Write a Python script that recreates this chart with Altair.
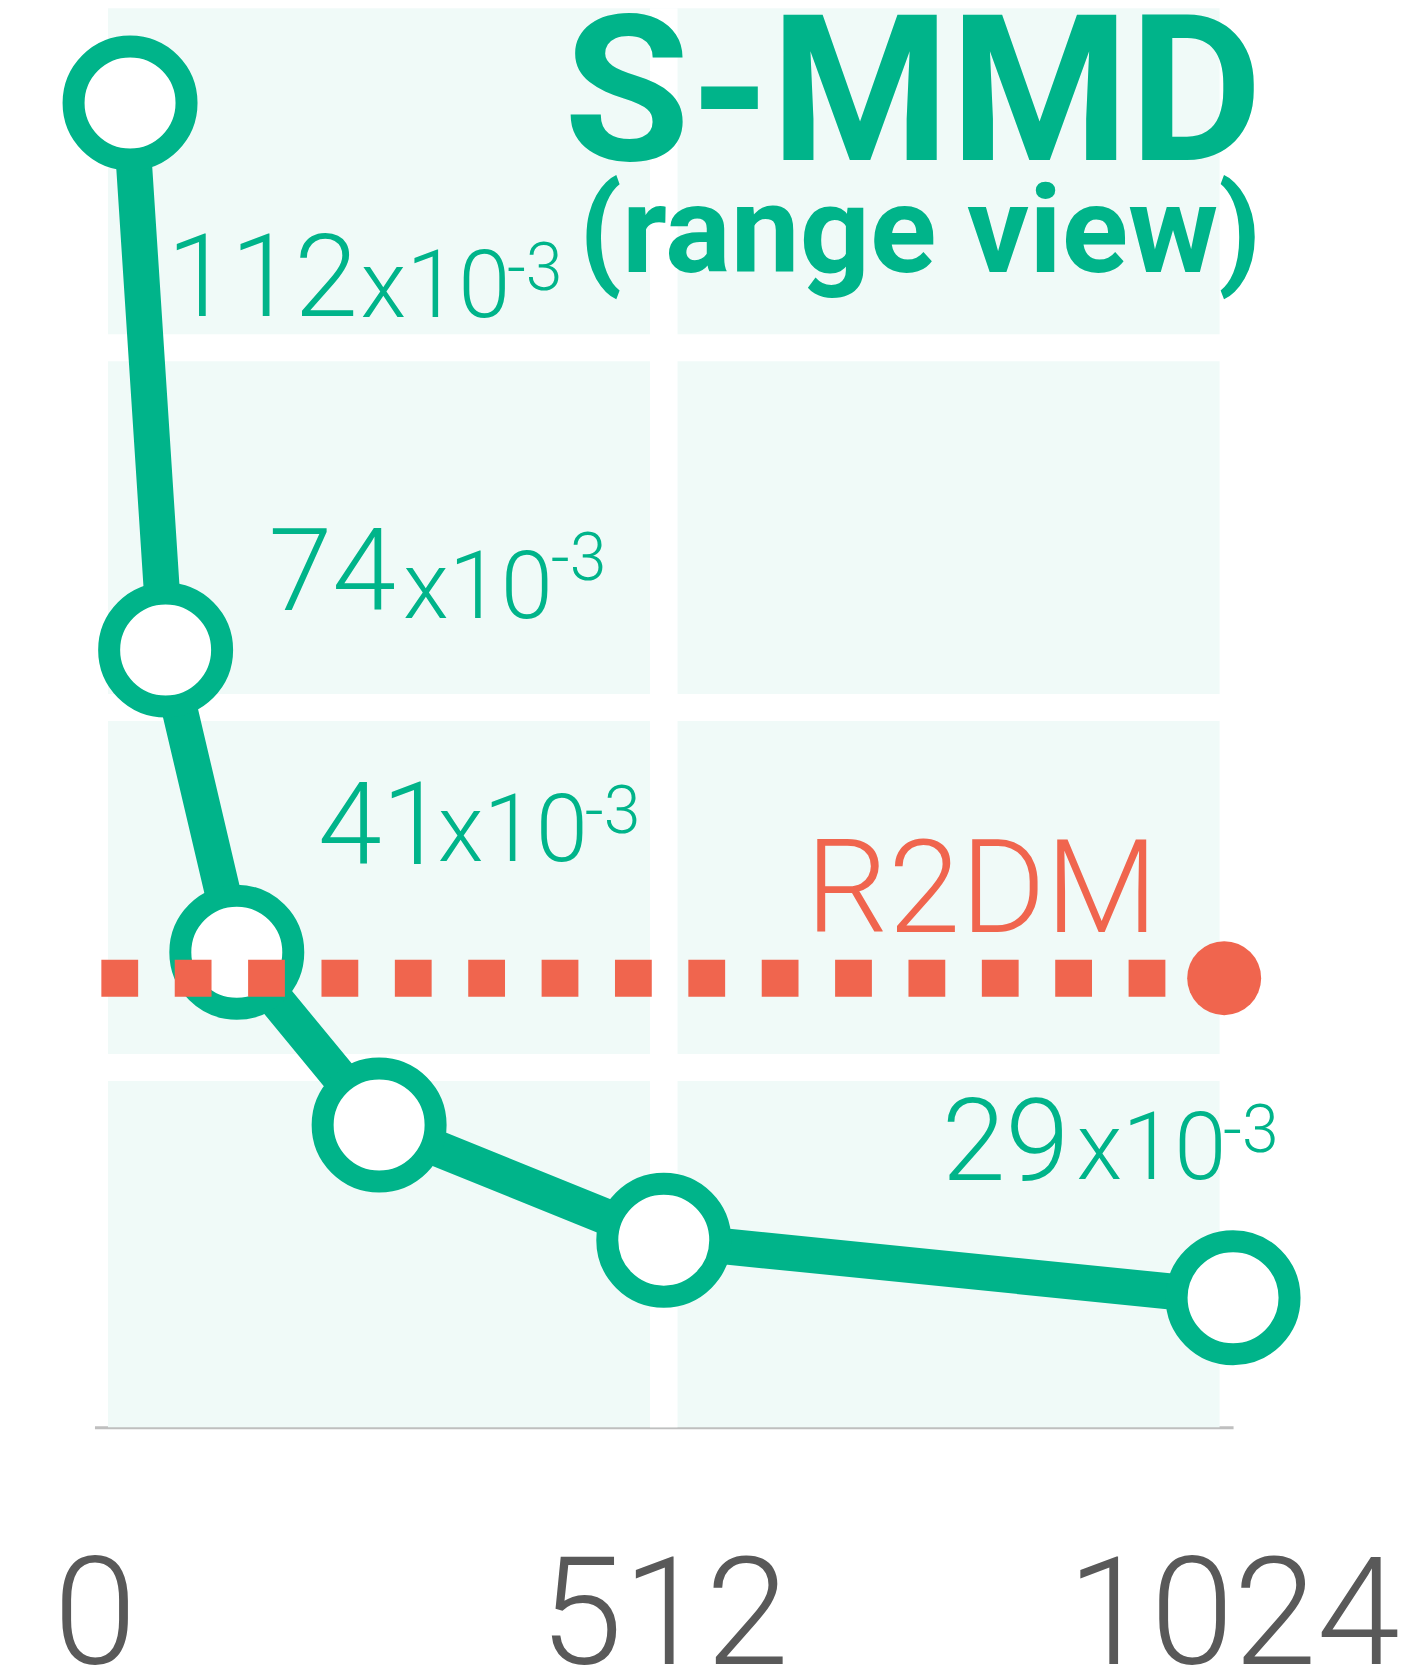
import altair as alt
import pandas as pd

# ---- data ----
steps = [32, 64, 128, 256, 512, 1024]
smmd = [112, 74, 53, 41, 33, 29]          # x10^-3
r2dm_value = 51.2
r2dm_span = [6.2, 1016]                   # extent of the dotted reference line
x_ticks = [0, 512, 1024]
x_domain = [0, 1024]
y_domain = [20, 118.58]
grid_x = [512]
grid_y = [45, 70, 95]

# value labels (text, x anchor, baseline y) in data units
num_text = ["112", "74", "41", "29"]
num_x = [65.0, 156.6, 201.0, 762.0]
num_y = [97.19, 76.77, 59.13, 37.19]
mul_x = [239.2, 277.4, 308.8, 883.1]
mul_y = [97.12, 76.2, 59.34, 37.26]
exp_x = [370.9, 410.4, 441.0, 1015.0]
exp_y = [98.99, 78.85, 61.28, 39.13]

title_text = ["S-MMD", "(range view)"]
title_x = [1050.5, 1049.6]
title_y = [108.02, 100.24]
title_size = [205, 123]

r2dm_label = "R2DM"
r2dm_label_x = 639.7
r2dm_label_y = 54.43

GREEN = "#00b48a"
RED = "#f0654e"
MINT = "#f0faf8"
FONT = "Roboto"

xs = alt.Scale(domain=x_domain, nice=False, zero=False)
ys = alt.Scale(domain=y_domain, nice=False, zero=False)
xaxis = alt.Axis(values=x_ticks, title=None, grid=False, ticks=False,
                 domain=True, domainColor="#bfbfbf", domainWidth=3,
                 labelFont=FONT, labelFontSize=150, labelFontWeight=300,
                 labelColor="#595959", labelLimit=0,
                 labelPadding=236, labelBaseline="alphabetic",
                 labelFlush=False, labelOverlap=False, format="d")


def X(field):
    return alt.X(field, type="quantitative", scale=xs, axis=xaxis)


def Y(field):
    return alt.Y(field, type="quantitative", scale=ys, axis=None)


bg = alt.Chart(pd.DataFrame({"x0": [x_domain[0]], "x1": [x_domain[1]],
                             "y0": [y_domain[0]], "y1": [y_domain[1]]})).mark_rect(
    color=MINT, xOffset=13.5, x2Offset=-13.5).encode(
    x=X("x0"), x2="x1", y=Y("y0"), y2="y1")

vgrid = alt.Chart(pd.DataFrame({"gx": grid_x})).mark_rule(
    color="white", strokeWidth=27.5).encode(x=X("gx"))
hgrid = alt.Chart(pd.DataFrame({"gy": grid_y})).mark_rule(
    color="white", strokeWidth=27).encode(y=Y("gy"))

df = pd.DataFrame({"step": steps, "val": smmd})
line = alt.Chart(df).mark_line(color=GREEN, strokeWidth=36).encode(
    x=X("step"), y=Y("val"))
pts = alt.Chart(df).mark_point(shape="circle", filled=True, fill="white",
                               stroke=GREEN, strokeWidth=22, size=12769,
                               opacity=1, fillOpacity=1, strokeOpacity=1).encode(
    x=X("step"), y=Y("val"))

rdf = pd.DataFrame({"rx": r2dm_span, "ry": [r2dm_value, r2dm_value]})
rline = alt.Chart(rdf).mark_line(color=RED, strokeWidth=37,
                                 strokeDash=[36.8, 36.6], strokeCap="butt").encode(
    x=X("rx"), y=Y("ry"))
rdot = alt.Chart(pd.DataFrame({"rx": [r2dm_span[1]], "ry": [r2dm_value]})).mark_point(
    shape="circle", filled=True, color=RED, size=5476, opacity=1).encode(
    x=X("rx"), y=Y("ry"))

labels = pd.DataFrame({
    "t": num_text + ["x10"] * 4 + ["-3"] * 4,
    "lx": num_x + mul_x + exp_x,
    "ly": num_y + mul_y + exp_y,
    "fs": [115] * 4 + [94] * 4 + [66] * 4,
})
vlabels = alt.Chart(labels).mark_text(align="left", baseline="alphabetic",
                                      font=FONT, fontWeight=300, color=GREEN).encode(
    x=X("lx"), y=Y("ly"), text="t:N", size=alt.Size("fs:Q", scale=None, legend=None))

rlabel = alt.Chart(pd.DataFrame({"t": [r2dm_label], "lx": [r2dm_label_x],
                                 "ly": [r2dm_label_y]})).mark_text(
    align="left", baseline="alphabetic", font=FONT, fontWeight=300, color=RED,
    fontSize=130).encode(
    x=X("lx"), y=Y("ly"), text="t:N")

titles = alt.Chart(pd.DataFrame({"t": title_text, "lx": title_x, "ly": title_y,
                                 "fs": title_size})).mark_text(
    align="right", baseline="alphabetic", font=FONT, color=GREEN,
    fontWeight="bold").encode(
    x=X("lx"), y=Y("ly"), text="t:N", size=alt.Size("fs:Q", scale=None, legend=None))

chart = alt.layer(bg, vgrid, hgrid, line, pts, rline, rdot, vlabels, rlabel, titles).properties(
    width=1139, height=1419.5,
    padding={"left": 86.5, "top": 0, "right": 184, "bottom": 252},
    autosize=alt.AutoSizeParams(type="none"),
    background="white",
).configure_view(stroke=None)

chart.save("out.html", embed_options={"renderer": "svg", "actions": False})
